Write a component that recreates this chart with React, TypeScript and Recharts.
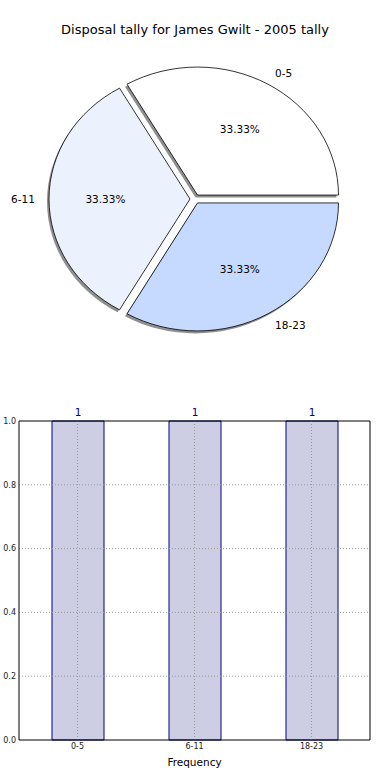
import React from 'react';
import {
  PieChart,
  Pie,
  BarChart,
  Bar,
  XAxis,
  YAxis,
  ReferenceLine,
  LabelList,
} from 'recharts';

const categories = ['0-5', '6-11', '18-23'];
const frequency = [1, 1, 1];
const sliceColors = ['#ffffff', '#ebf2fe', '#c6d9fe'];
const yTicks = [0, 0.2, 0.4, 0.6, 0.8, 1.0];

// pie is drawn squashed like the original (axes not equal)
const Y_SCALE = 128 / 141;
const EXPLODE = 5;
const RAD = Math.PI / 180;

const pieData = categories.map((c, i) => ({ name: c, value: frequency[i], fill: sliceColors[i] }));
const barData = categories.map((c, i) => ({ category: c, frequency: frequency[i] }));

const wedgePath = (cx: number, cy: number, rx: number, ry: number, start: number, end: number) => {
  const sx = cx + rx * Math.cos(start * RAD);
  const sy = cy - ry * Math.sin(start * RAD);
  const ex = cx + rx * Math.cos(end * RAD);
  const ey = cy - ry * Math.sin(end * RAD);
  const large = Math.abs(end - start) > 180 ? 1 : 0;
  return `M${cx},${cy} L${sx},${sy} A${rx},${ry} 0 ${large} 0 ${ex},${ey} Z`;
};

const EllipseWedge = (props: any) => {
  const { cx, cy, outerRadius, startAngle, endAngle, midAngle, fill } = props;
  const rx = outerRadius;
  const ry = outerRadius * Y_SCALE;
  const ox = cx + EXPLODE * Math.cos(midAngle * RAD);
  const oy = cy - EXPLODE * Y_SCALE * Math.sin(midAngle * RAD);
  return (
    <g>
      <path d={wedgePath(ox - 2, oy + 2.5, rx, ry, startAngle, endAngle)} fill="#8f8f8f" stroke="none" />
      <path d={wedgePath(ox, oy, rx, ry, startAngle, endAngle)} fill={fill} stroke="#000" strokeWidth={0.8} />
    </g>
  );
};

const renderLabels = (props: any) => {
  const { cx, cy, midAngle, outerRadius, percent, name } = props;
  const cos = Math.cos(midAngle * RAD);
  const sin = Math.sin(midAngle * RAD);
  const ox = cx + EXPLODE * cos;
  const oy = cy - EXPLODE * Y_SCALE * sin;
  const ry = outerRadius * Y_SCALE;
  return (
    <g>
      <text
        x={ox + 1.1 * outerRadius * cos}
        y={oy - 1.1 * ry * sin}
        textAnchor={cos > 0.01 ? 'start' : cos < -0.01 ? 'end' : 'middle'}
        dominantBaseline="central"
        fontSize={10.5}
        fill="#000"
      >
        {name}
      </text>
      <text
        x={ox + 0.6 * outerRadius * cos}
        y={oy - 0.6 * ry * sin}
        textAnchor="middle"
        dominantBaseline="central"
        fontSize={10.5}
        fill="#000"
      >
        {(percent * 100).toFixed(2)}%
      </text>
    </g>
  );
};

const gridStyle = { stroke: '#9a9a9a', strokeDasharray: '1 2', strokeWidth: 1 };

export default function App() {
  return (
    <div style={{ position: 'absolute', left: 0, top: 0, width: 390, height: 780, background: '#fff', fontFamily: 'DejaVu Sans' }}>
      <div style={{ position: 'absolute', left: 0, top: 22, width: 390, textAlign: 'center', fontSize: 13, color: '#000' }}>
        Disposal tally for James Gwilt - 2005 tally
      </div>
      <div style={{ position: 'absolute', left: 0, top: 0 }}>
        <PieChart width={390} height={390} margin={{ top: 0, right: 0, bottom: 0, left: 0 }}>
          <Pie
            data={pieData}
            dataKey="value"
            nameKey="name"
            cx={195}
            cy={199}
            outerRadius={141}
            startAngle={0}
            endAngle={360}
            shape={EllipseWedge}
            label={renderLabels}
            labelLine={false}
            isAnimationActive={false}
          />
        </PieChart>
      </div>
      <div style={{ position: 'absolute', left: 0, top: 400 }}>
        <BarChart width={390} height={380} data={barData} margin={{ top: 0, right: 0, bottom: 10, left: 0 }}>
          <XAxis
            dataKey="category"
            height={30}
            tickLine={false}
            tickSize={0}
            tickMargin={3}
            tick={{ fontSize: 8, fill: '#222' }}
            axisLine={{ stroke: '#000' }}
            label={{ value: 'Frequency', position: 'insideBottom', offset: 4, fontSize: 10.5, fill: '#000' }}
          />
          <XAxis xAxisId="top" dataKey="category" orientation="top" height={21} tick={false} tickLine={false} axisLine={{ stroke: '#000' }} />
          <YAxis
            width={19}
            domain={[0, 1]}
            ticks={yTicks}
            tickFormatter={(v: number) => v.toFixed(1)}
            tickLine={false}
            tickSize={3}
            tickMargin={0}
            tick={{ fontSize: 8, fill: '#222' }}
            axisLine={{ stroke: '#000' }}
          />
          <YAxis yAxisId="right" orientation="right" width={20} domain={[0, 1]} tick={false} tickLine={false} axisLine={{ stroke: '#000' }} />
          <Bar dataKey="frequency" fill="#cdcde4" stroke="#000080" strokeWidth={1} barSize={52} isAnimationActive={false}>
            <LabelList dataKey="frequency" position="top" offset={5} fill="#000080" fontSize={10.5} />
          </Bar>
          {yTicks.slice(1, -1).map((t) => (
            <ReferenceLine key={`h${t}`} y={t} {...gridStyle} />
          ))}
          {categories.map((c) => (
            <ReferenceLine key={`v${c}`} x={c} {...gridStyle} />
          ))}
        </BarChart>
      </div>
    </div>
  );
}
